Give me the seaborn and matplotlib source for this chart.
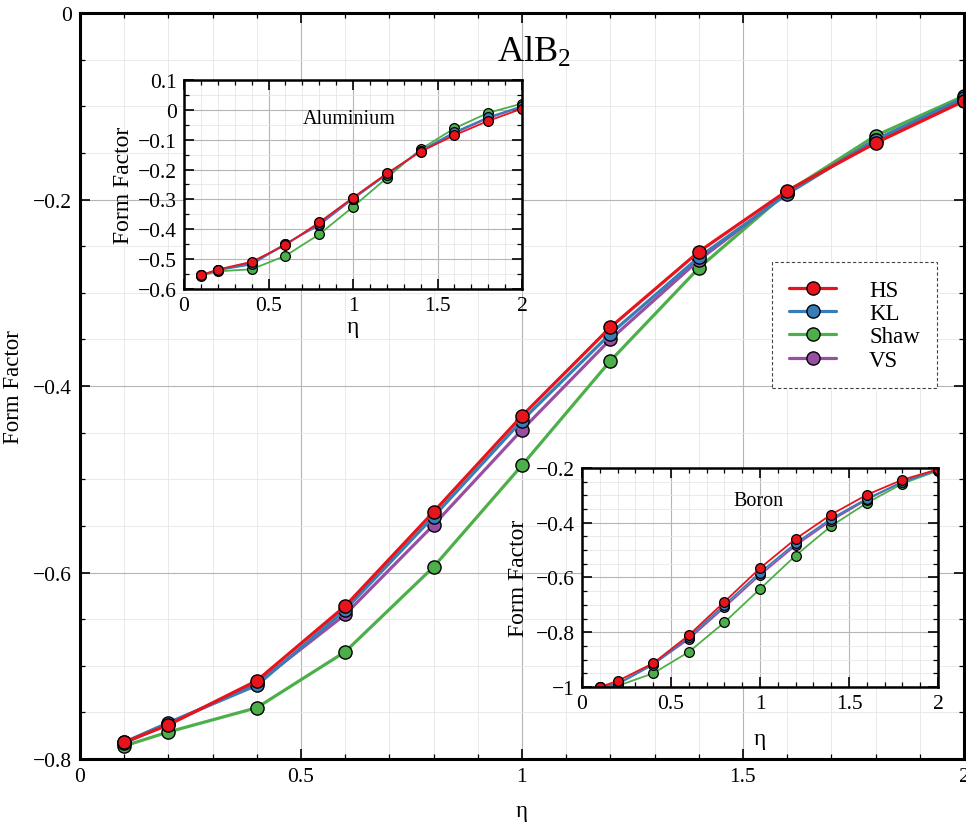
import numpy as np
import pandas as pd
import matplotlib
matplotlib.use("Agg")
import matplotlib.pyplot as plt
import seaborn as sns
from matplotlib.ticker import MultipleLocator
from matplotlib.lines import Line2D

# ---------------- data ----------------
eta = [0.1, 0.2, 0.4, 0.6, 0.8, 1.0, 1.2, 1.4, 1.6, 1.8, 2.0]
methods = ["HS", "KL", "Shaw", "VS"]

# AlB2 (main panel)
alb2_hs   = [-0.782, -0.7635, -0.716, -0.636, -0.535, -0.432, -0.337, -0.256, -0.1905, -0.1394, -0.0944]
alb2_kl   = [-0.782, -0.761, -0.721, -0.640, -0.540, -0.437, -0.344, -0.262, -0.194, -0.136, -0.091]
alb2_shaw = [-0.786, -0.771, -0.745, -0.685, -0.594, -0.485, -0.373, -0.2735, -0.192, -0.1316, -0.089]
alb2_vs   = [-0.783, -0.762, -0.719, -0.645, -0.549, -0.447, -0.350, -0.265, -0.193, -0.136, -0.092]

# Aluminium (inset)
al_hs   = [-0.554, -0.535, -0.509, -0.453, -0.377, -0.294, -0.213, -0.140, -0.085, -0.037, 0.004]
al_kl   = [-0.554, -0.537, -0.518, -0.450, -0.382, -0.297, -0.217, -0.137, -0.075, -0.025, 0.012]
al_shaw = [-0.556, -0.541, -0.534, -0.489, -0.417, -0.325, -0.228, -0.132, -0.062, -0.010, 0.021]
al_vs   = [-0.554, -0.536, -0.514, -0.449, -0.386, -0.298, -0.216, -0.138, -0.078, -0.028, 0.010]

# Boron (inset)
b_hs   = [-1.000, -0.978, -0.913, -0.811, -0.689, -0.566, -0.459, -0.370, -0.298, -0.243, -0.205]
b_kl   = [-1.000, -0.990, -0.918, -0.818, -0.700, -0.582, -0.475, -0.385, -0.312, -0.252, -0.207]
b_shaw = [-1.002, -0.996, -0.950, -0.872, -0.764, -0.642, -0.520, -0.412, -0.328, -0.257, -0.210]
b_vs   = [-1.000, -0.988, -0.917, -0.825, -0.709, -0.591, -0.483, -0.392, -0.316, -0.250, -0.206]

colors = {"HS": "#e8141c", "KL": "#377eb8", "Shaw": "#4daf4a", "VS": "#984ea3"}

def long_df(series):
    rows = []
    for m, vals in zip(methods, series):
        for x, y in zip(eta, vals):
            rows.append({"eta": x, "ff": y, "method": m})
    return pd.DataFrame(rows)

df_main = long_df([alb2_hs, alb2_kl, alb2_shaw, alb2_vs])
df_al = long_df([al_hs, al_kl, al_shaw, al_vs])
df_b = long_df([b_hs, b_kl, b_shaw, b_vs])

# ---------------- style ----------------
sns.set_theme(style="ticks")
plt.rcParams["font.family"] = ["Liberation Serif", "DejaVu Serif"]
plt.rcParams["mathtext.fontset"] = "custom"
plt.rcParams["mathtext.rm"] = "Liberation Serif"
plt.rcParams["mathtext.default"] = "regular"
plt.rcParams["axes.unicode_minus"] = True
plt.rcParams["text.color"] = "black"
plt.rcParams["axes.labelcolor"] = "black"

fig = plt.figure(figsize=(9.66, 8.28), dpi=100)
fig.patch.set_facecolor("white")

ax = fig.add_axes([0.0828, 0.0821, 0.9151, 0.9010])
ax_al = fig.add_axes([0.1905, 0.6498, 0.3499, 0.2524])
ax_b = fig.add_axes([0.6025, 0.1691, 0.3685, 0.2645])

draw_order = ["Shaw", "VS", "KL", "HS"]

def draw(a, df, lw, ms, mew):
    for m in draw_order:
        sub = df[df["method"] == m]
        sns.lineplot(data=sub, x="eta", y="ff", ax=a, color=colors[m], lw=lw,
                     marker="o", markersize=ms, markeredgecolor="black",
                     markeredgewidth=mew, legend=False, estimator=None, sort=True)

def style(a, xlim, ylim, xmaj, xmin, ymaj, ymin, spw, tsize):
    a.set_facecolor("white")
    a.set_xlim(*xlim)
    a.set_ylim(*ylim)
    a.xaxis.set_major_locator(MultipleLocator(xmaj))
    a.xaxis.set_minor_locator(MultipleLocator(xmin))
    a.yaxis.set_major_locator(MultipleLocator(ymaj))
    a.yaxis.set_minor_locator(MultipleLocator(ymin))
    a.grid(which="major", color="#b5b5b5", lw=0.8)
    a.grid(which="minor", color="#e6e6e6", lw=0.6)
    a.set_axisbelow(True)
    for s in a.spines.values():
        s.set_linewidth(spw)
        s.set_color("black")
    a.tick_params(which="both", direction="in", top=True, right=True,
                  labelsize=tsize, colors="black")
    a.tick_params(which="major", length=7, width=1.2, pad=6)
    a.tick_params(which="minor", length=3.5, width=0.9)

def fmt(v, pos):
    s = f"{v:g}"
    if s == "-0":
        s = "0"
    return s.replace("-", "\u2212")

draw(ax, df_main, 2.3, 9.5, 1.0)
style(ax, (0, 2), (-0.8, 0), 0.5, 0.1, 0.2, 0.05, 2.2, 15.5)
ax.xaxis.set_major_formatter(plt.FuncFormatter(fmt))
ax.yaxis.set_major_formatter(plt.FuncFormatter(fmt))
ax.set_xlabel("\u03b7", fontsize=16.5, labelpad=10)
ax.set_ylabel("Form Factor", fontsize=16.5, labelpad=6)
ax.text(1.027, -0.042, r"AlB$_\mathregular{2}$", fontsize=26, ha="center", va="center")

draw(ax_al, df_al, 1.3, 7, 0.9)
style(ax_al, (0, 2), (-0.6, 0.1), 0.5, 0.1, 0.1, 0.05, 1.8, 15.5)
ax_al.tick_params(which="major", pad=5)
ax_al.xaxis.set_major_formatter(plt.FuncFormatter(fmt))
ax_al.yaxis.set_major_formatter(plt.FuncFormatter(fmt))
ax_al.set_xlabel("\u03b7", fontsize=17, labelpad=1)
ax_al.set_ylabel("Form Factor", fontsize=17, labelpad=3)
ax_al.text(0.98, -0.029, "Aluminium", fontsize=14.5, ha="center", va="center")

draw(ax_b, df_b, 1.3, 7, 0.9)
style(ax_b, (0, 2), (-1.0, -0.2), 0.5, 0.1, 0.2, 0.05, 1.8, 15.5)
ax_b.tick_params(which="major", pad=5)
ax_b.xaxis.set_major_formatter(plt.FuncFormatter(fmt))
ax_b.yaxis.set_major_formatter(plt.FuncFormatter(fmt))
ax_b.set_xlabel("\u03b7", fontsize=17, labelpad=11)
ax_b.set_ylabel("Form Factor", fontsize=17, labelpad=5)
ax_b.text(0.99, -0.319, "Boron", fontsize=14.5, ha="center", va="center")

handles = [Line2D([0], [0], color=colors[m], lw=2.3, marker="o", markersize=9.5,
                  markeredgecolor="black", markeredgewidth=1.0) for m in methods]
leg = ax.legend(handles, methods, loc="upper left", bbox_to_anchor=(0.799, 0.682),
                bbox_transform=fig.transFigure, borderaxespad=0, fontsize=16.5,
                frameon=True, fancybox=False, handlelength=2.05, handletextpad=1.45,
                borderpad=0.75, labelspacing=0.1)
fr = leg.get_frame()
fr.set_linestyle((0, (3, 2)))
fr.set_edgecolor("#444444")
fr.set_linewidth(0.8)
fr.set_facecolor("white")
fr.set_alpha(1)

fig.savefig("out.png", dpi=100, facecolor="white")
